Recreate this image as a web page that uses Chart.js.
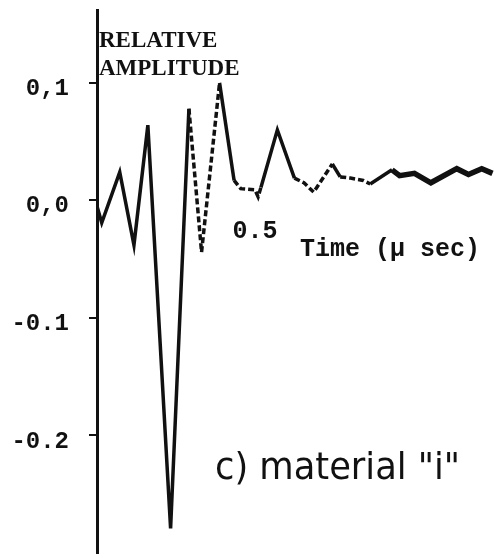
<!DOCTYPE html>
<html lang="en">
<head>
  <meta charset="UTF-8">
  <title>Relative amplitude - material "i"</title>
  <style>
    body {
      margin: 0;
      background-color: #ffffff;
    }
    #wave-chart {
      display: block;
    }
  </style>
</head>
<body>
  <canvas id="wave-chart" width="495" height="559"></canvas>

  <script src="https://cdn.jsdelivr.net/npm/chart.js"></script>
  <script>
    // Waveform (time in µs, relative amplitude)
    const times = [0, 0.015, 0.072, 0.117, 0.161, 0.233, 0.291, 0.331, 0.388, 0.434,
      0.455, 0.50, 0.51, 0.519, 0.571, 0.625, 0.655, 0.686, 0.745, 0.77,
      0.802, 0.843, 0.865, 0.934, 0.958, 1.005, 1.057, 1.139, 1.176, 1.218, 1.252];
    const amplitudes = [-0.005, -0.019, 0.024, -0.038, 0.064, -0.279, 0.078, -0.044, 0.100, 0.017,
      0.010, 0.009, 0.003, 0.011, 0.060, 0.019, 0.015, 0.007, 0.031, 0.020,
      0.019, 0.017, 0.014, 0.026, 0.021, 0.023, 0.015, 0.027, 0.022, 0.027, 0.023];

    // Axis ticks
    const yTicks = [0.1, 0, -0.1, -0.2];
    const yTickLabels = ["0,1", "0,0", "-0.1", "-0.2"];
    const xTicks = [0.5];
    const xTickLabels = ["0.5"];

    // Trace styling: faint dashed parts and the thick tail
    const dashedSegments = [6, 7, 9, 10, 11, 12, 15, 16, 17, 19, 20, 21];
    const thickFrom = 23;

    const points = times.map((t, i) => ({ x: t, y: amplitudes[i] }));

    // Free text labels drawn on top of the chart
    const textLabels = {
      id: "textLabels",
      afterDraw(chart) {
        const ctx = chart.ctx;
        ctx.save();
        ctx.fillStyle = "#111";
        ctx.textBaseline = "alphabetic";
        ctx.textAlign = "left";

        ctx.font = "bold 23px 'Liberation Serif', 'DejaVu Serif', serif";
        ctx.fillText("RELATIVE", 99, 47);
        ctx.fillText("AMPLITUDE", 99, 75);

        ctx.font = "bold 25px 'Liberation Mono', 'DejaVu Sans Mono', monospace";
        ctx.fillText("Time (\u00b5 sec)", 300, 256);

        // condensed caption, stretched to the width it has in the scan
        const caption = "c) material \"i\"";
        ctx.font = "38px 'Liberation Sans Narrow', 'DejaVu Sans Condensed', sans-serif";
        const w = ctx.measureText(caption).width;
        ctx.translate(215, 479);
        ctx.scale(245 / w, 1);
        ctx.fillText(caption, 0, 0);
        ctx.restore();
      }
    };

    // drop the label padding so the axis spans the whole height
    function noPadding(axis) {
      axis.paddingTop = 0;
      axis.paddingBottom = 0;
      axis.paddingLeft = 0;
      axis.paddingRight = 0;
    }

    const ctx = document.getElementById("wave-chart").getContext("2d");

    new Chart(ctx, {
      type: "line",
      data: {
        datasets: [
          {
            data: points,
            borderColor: "#111",
            borderWidth: 3.5,
            pointRadius: 0,
            tension: 0,
            fill: false,
            segment: {
              borderDash: (c) => dashedSegments.includes(c.p0DataIndex) ? [6, 3] : undefined,
              borderWidth: (c) => c.p0DataIndex >= thickFrom ? 5.5 : undefined,
            },
          },
        ],
      },
      options: {
        responsive: false,
        animation: false,
        layout: {
          padding: { top: 10, bottom: 6, left: 0, right: 0 },
        },
        plugins: {
          legend: { display: false },
          tooltip: { enabled: false },
        },
        scales: {
          x: {
            type: "linear",
            min: 0,
            max: 1.26,
            position: { y: 0 },
            afterFit: (axis) => { axis.height = 0; noPadding(axis); },
            afterBuildTicks: (axis) => { axis.ticks = xTicks.map((v) => ({ value: v })); },
            grid: { display: false, drawTicks: false },
            border: { display: false },
            ticks: {
              padding: 16,
              color: "#111",
              font: { family: "'Liberation Mono', 'DejaVu Sans Mono', monospace", size: 25, weight: "bold" },
              callback: (value) => xTickLabels[xTicks.indexOf(value)] ?? "",
            },
          },
          y: {
            type: "linear",
            min: -0.3,
            max: 0.162,
            afterFit: (axis) => { axis.width = 97; noPadding(axis); },
            afterBuildTicks: (axis) => { axis.ticks = yTicks.map((v) => ({ value: v })); },
            grid: {
              display: true,
              drawOnChartArea: false,
              drawTicks: true,
              tickLength: 8,
              color: "#111",
              lineWidth: 2,
            },
            border: { display: true, color: "#111", width: 3 },
            ticks: {
              padding: 20,
              labelOffset: 6,
              color: "#111",
              font: { family: "'Liberation Mono', 'DejaVu Sans Mono', monospace", size: 24, weight: "bold" },
              callback: (value) => {
                const i = yTicks.findIndex((v) => Math.abs(v - value) < 1e-9);
                return i >= 0 ? yTickLabels[i] : "";
              },
            },
          },
        },
      },
      plugins: [textLabels],
    });
  </script>
</body>
</html>
